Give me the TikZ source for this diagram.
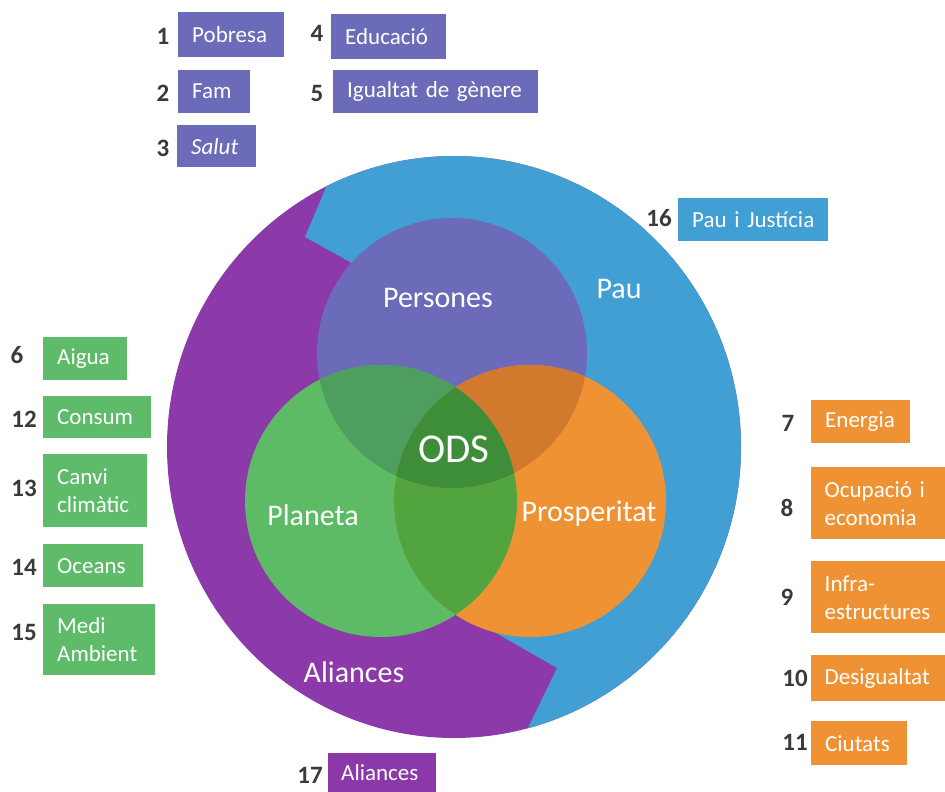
\documentclass[tikz,border=0pt]{standalone}
\usepackage{fontspec}
\setmainfont{Carlito}
\hyphenpenalty=10000
\exhyphenpenalty=10000
\definecolor{cPurple}{HTML}{8C3AA9}
\definecolor{cBlue}{HTML}{419FD3}
\definecolor{cPers}{HTML}{6B6BB9}
\definecolor{cGreen}{HTML}{5DBB65}
\definecolor{cOrange}{HTML}{EE9233}
\definecolor{cPG}{HTML}{4E9F5F}
\definecolor{cPO}{HTML}{D17A2E}
\definecolor{cGO}{HTML}{52A43F}
\definecolor{cODS}{HTML}{3E8D38}
\definecolor{bxPurple}{HTML}{6B6BB9}
\definecolor{bxGreen}{HTML}{5DBB69}
\definecolor{bxOrange}{HTML}{EE9234}
\definecolor{bxBlue}{HTML}{419FD3}
\definecolor{bxAli}{HTML}{8B38A8}
\definecolor{numgray}{HTML}{3A3A3A}
\tikzset{
  lbl/.style={fill=#1, text=white, font=\fontsize{23}{28}\selectfont,
    inner xsep=14pt, inner ysep=0pt, anchor=north west, align=left},
  num/.style={text=numgray, font=\fontsize{25}{28}\bfseries\selectfont, inner sep=0pt},
  big/.style={text=white, font=\fontsize{30}{36}\selectfont, inner sep=0pt, anchor=base},
}
\begin{document}
\begin{tikzpicture}[x=1pt,y=-1pt]
\useasboundingbox (0,0) rectangle (945,792);
% outer ring
\fill[cPurple] (454,447) ellipse [x radius=287, y radius=291];
\begin{scope}
  \clip (454,447) ellipse [x radius=287, y radius=291];
  \fill[cBlue] (456,610) -- (455,400) -- (350,262) -- (305,237) -- (363,100)
     -- (820,100) -- (820,800) -- (493,800) -- (557,668) -- cycle;
\end{scope}
% inner circles
\fill[cPers] (452,353) circle [radius=135];
\fill[cGreen] (381,501) circle [radius=136];
\fill[cOrange] (530,501) circle [radius=136];
\begin{scope}
  \clip (381,501) circle [radius=136];
  \fill[cGO] (530,501) circle [radius=136];
\end{scope}
\begin{scope}
  \clip (452,353) circle [radius=135];
  \fill[cPG] (381,501) circle [radius=136];
  \fill[cPO] (530,501) circle [radius=136];
  \clip (381,501) circle [radius=136];
  \fill[cODS] (530,501) circle [radius=136];
\end{scope}
% inner labels
\node[big] (tPers) at (438,307) {Persones};
\node[big] (tPau) at (619,298) {Pau};
\node[big, font=\fontsize{41}{48}\selectfont] (tODS) at (454,462) {ODS};
\node[big] (tPlan) at (313,525) {Planeta};
\node[big] (tPros) at (589,521) {Prosperitat};
\node[big] (tAli) at (354,682) {Aliances};
% top boxes
\node[lbl=bxPurple, minimum width=106pt, minimum height=45pt, text width=78pt] (b1) at (178,12) {Pobresa};
\node[num] (n1) at (163,36) {1};
\node[lbl=bxPurple, minimum width=115pt, minimum height=45pt, text width=87pt] (b4) at (331,14) {Educació};
\node[num] (n4) at (317,33) {4};
\node[lbl=bxPurple, minimum width=72pt, minimum height=43pt, text width=44pt] (b2) at (178,70) {Fam};
\node[num] (n2) at (163,93) {2};
\node[lbl=bxPurple, minimum width=205pt, minimum height=43pt, text width=177pt] (b5) at (333,70) {\mbox{Igualtat de gènere}};
\node[num] (n5) at (317,93) {5};
\node[lbl=bxPurple, minimum width=79pt, minimum height=42pt, text width=51pt, font=\fontsize{23}{28}\itshape\selectfont] (b3) at (177,125) {Salut};
\node[num] (n3) at (163,148) {3};
% left boxes
\node[lbl=bxGreen, minimum width=84pt, minimum height=43pt, text width=56pt] (b6) at (43,337) {Aigua};
\node[num] (n6) at (17,355) {6};
\node[lbl=bxGreen, minimum width=108pt, minimum height=42pt, text width=80pt] (b12) at (43,396) {Consum};
\node[num] (n12) at (24,419) {12};
\node[lbl=bxGreen, minimum width=104pt, minimum height=73pt, text width=76pt] (b13) at (43,454) {Canvi\\climàtic};
\node[num] (n13) at (24,488) {13};
\node[lbl=bxGreen, minimum width=100pt, minimum height=43pt, text width=72pt] (b14) at (43,544) {Oceans};
\node[num] (n14) at (24,567) {14};
\node[lbl=bxGreen, minimum width=112pt, minimum height=71pt, text width=84pt] (b15) at (43,604) {Medi\\Ambient};
\node[num] (n15) at (24,632) {15};
% right boxes
\node[lbl=bxOrange, minimum width=99pt, minimum height=43pt, text width=71pt] (b7) at (811,400) {Energia};
\node[num] (n7) at (788,423) {7};
\node[lbl=bxOrange, inner xsep=13.5pt, minimum width=134pt, minimum height=72pt, text width=107pt] (b8) at (811,467) {Ocupació i\\economia};
\node[num] (n8) at (787,508) {8};
\node[lbl=bxOrange, inner xsep=13.5pt, minimum width=134pt, minimum height=72pt, text width=107pt] (b9) at (811,561) {Infra-\\estructures};
\node[num] (n9) at (787,597) {9};
\node[lbl=bxOrange, inner xsep=13.5pt, minimum width=134pt, minimum height=46pt, text width=107pt] (b10) at (811,655) {Desigualtat};
\node[num] (n10) at (795,678) {10};
\node[lbl=bxOrange, minimum width=96pt, minimum height=44pt, text width=68pt] (b11) at (811,721) {Ciutats};
\node[num] (n11) at (795,742) {11};
% blue and purple
\node[lbl=bxBlue, minimum width=150pt, minimum height=43pt, text width=122pt] (b16) at (678,198) {\mbox{Pau i Justícia}};
\node[num] (n16) at (659,218) {16};
\node[lbl=bxAli, inner xsep=13pt, minimum width=108pt, minimum height=39pt, text width=82pt] (b17) at (328,753) {Aliances};
\node[num] (n17) at (310,775) {17};
\end{tikzpicture}
\end{document}
